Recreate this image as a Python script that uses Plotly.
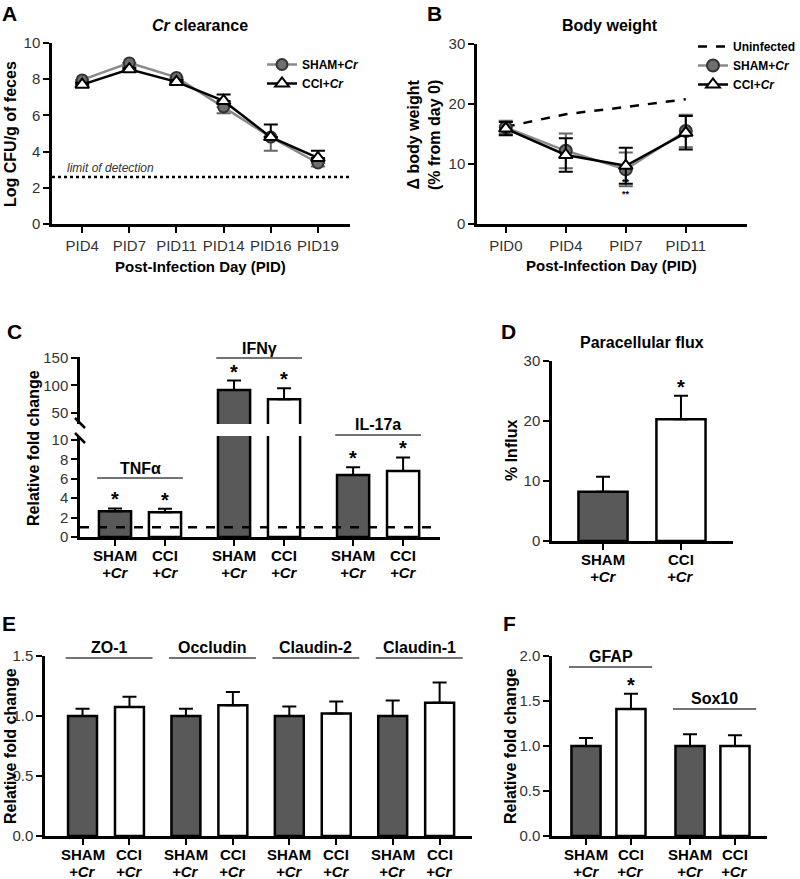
import plotly.graph_objects as go

# ---- data -------------------------------------------------------------
pid_a = ["PID4", "PID7", "PID11", "PID14", "PID16", "PID19"]
sham_cfu = [7.96, 8.9, 8.1, 6.47, 4.8, 3.37]
sham_cfu_err = [0.12, 0.1, 0.12, 0.35, 0.75, 0.2]
cci_cfu = [7.7, 8.55, 7.85, 6.8, 4.8, 3.65]
cci_cfu_err = [0.1, 0.1, 0.1, 0.35, 0.7, 0.4]
limit_of_detection = 2.6

pid_b = ["PID0", "PID4", "PID7", "PID11"]
uninfected_bw = [16.2, 18.3, 19.5, 20.8]
sham_bw = [16.1, 12.2, 9.1, 15.5]
sham_bw_err = [1.1, 2.9, 2.8, 2.7]
cci_bw = [15.9, 11.5, 9.7, 15.2]
cci_bw_err = [1.1, 2.8, 3.0, 2.8]

genes_c = ["TNF\u03b1", "IFN\u03b3", "IL-17a"]
sham_c = [2.65, 92, 6.4]
sham_c_err = [0.3, 17, 0.8]
cci_c = [2.55, 75, 6.8]
cci_c_err = [0.35, 20, 1.4]
sig_c_sham = [True, True, True]
sig_c_cci = [True, True, True]

groups = ["SHAM", "CCI"]
influx = [8.2, 20.3]
influx_err = [2.5, 3.9]
sig_d = [False, True]

genes_e = ["ZO-1", "Occludin", "Claudin-2", "Claudin-1"]
sham_e = [1.0, 1.0, 1.0, 1.0]
sham_e_err = [0.06, 0.06, 0.08, 0.13]
cci_e = [1.075, 1.09, 1.02, 1.11]
cci_e_err = [0.085, 0.11, 0.10, 0.17]

genes_f = ["GFAP", "Sox10"]
sham_f = [1.0, 1.0]
sham_f_err = [0.09, 0.13]
cci_f = [1.41, 1.0]
cci_f_err = [0.17, 0.12]
sig_f_cci = [True, False]

# ---- helpers ----------------------------------------------------------
W, H = 800, 879
FONT = "Arial, Liberation Sans, sans-serif"
DARK = "#595959"


def px(x):
    return x / W


def py(y):
    return 1 - y / H


def yax(top, bottom, rng, tickvals, anchor, **kw):
    d = dict(domain=[py(bottom), py(top)], range=rng, tickvals=tickvals, anchor=anchor,
             showline=True, linecolor="black", linewidth=2.5, ticks="outside", ticklen=6,
             tickwidth=2, tickcolor="black", showgrid=False, zeroline=False,
             tickfont=dict(size=15, color="#333"))
    d.update(kw)
    return d


def xax(left, right, rng, anchor, **kw):
    d = dict(domain=[px(left), px(right)], range=rng, anchor=anchor,
             showline=True, linecolor="black", linewidth=2.5, ticks="outside", ticklen=6,
             tickwidth=2, tickcolor="black", showgrid=False, zeroline=False,
             tickfont=dict(size=15, color="#333"))
    d.update(kw)
    return d


def up_err(err, color="black"):
    return dict(type="data", array=err, arrayminus=[0] * len(err), symmetric=False,
                color=color, thickness=2, width=7)


def down_err(err, color="black"):
    return dict(type="data", array=[0] * len(err), arrayminus=err, symmetric=False,
                color=color, thickness=2, width=7)


def bar(x, y, err, fill, xa, ya, width):
    return go.Bar(x=x, y=y, width=width, error_y=up_err(err),
                  marker=dict(color=fill, line=dict(color="black", width=2.5)),
                  xaxis=xa, yaxis=ya, showlegend=False, hoverinfo="skip")


fig = go.Figure()
annotations = []
shapes = []


def star(x, y, xref, yref):
    annotations.append(dict(text="<b>*</b>", x=x, y=y, xref=xref, yref=yref, showarrow=False,
                            xanchor="center", yanchor="middle", yshift=9,
                            font=dict(size=20, color="black")))


def text(t, x, y, size=16, **kw):
    annotations.append(dict(text=t, x=px(x), y=py(y), xref="paper", yref="paper",
                            xanchor="center", yanchor="middle",
                            showarrow=False, font=dict(size=size, color="black"), **kw))


def group_label(t, xc, half, ytext, yline, xref):
    annotations.append(dict(text="<b>%s</b>" % t, x=xc, y=py(ytext), xref=xref, yref="paper",
                            showarrow=False, xanchor="center", yanchor="middle",
                            font=dict(size=16, color="black")))
    shapes.append(dict(type="line", xref=xref, yref="paper", x0=xc - half, x1=xc + half,
                       y0=py(yline), y1=py(yline), line=dict(color="#444", width=1.5)))


def bar_labels(xvals, xref, yref):
    # two-line group labels under each bar: "SHAM / +Cr", "CCI / +Cr"
    for k, xv in enumerate(xvals):
        for t, shift in (("<b>%s</b>" % groups[k % 2], -18), ("<b><i>+Cr</i></b>", -35)):
            annotations.append(dict(text=t, x=xv, y=0, xref=xref, yref=yref + " domain",
                                    showarrow=False, xanchor="center", yanchor="middle",
                                    yshift=shift, borderpad=0,
                                    font=dict(size=15, color="black")))


# ---- A: Cr clearance --------------------------------------------------
fig.add_trace(go.Scatter(x=pid_a, y=sham_cfu, mode="lines+markers", name="<b>SHAM+<i>Cr</i></b>",
                         line=dict(color="#8a8a8a", width=2.5),
                         marker=dict(symbol="circle", size=11, color="#6e6e6e",
                                     line=dict(color="#333", width=2)),
                         error_y=down_err(sham_cfu_err, "#666"), xaxis="x", yaxis="y"))
fig.add_trace(go.Scatter(x=pid_a, y=cci_cfu, mode="lines+markers", name="<b>CCI+<i>Cr</i></b>",
                         line=dict(color="black", width=2.5),
                         marker=dict(symbol="triangle-up", size=12, color="white",
                                     line=dict(color="black", width=2)),
                         error_y=up_err(cci_cfu_err), xaxis="x", yaxis="y"))
shapes.append(dict(type="line", xref="x domain", yref="y", x0=0, x1=1,
                   y0=limit_of_detection, y1=limit_of_detection,
                   line=dict(color="black", width=2.5, dash="dot")))
annotations.append(dict(text="<i>limit of detection</i>", xref="x domain", yref="y", x=0.045,
                        y=limit_of_detection, xanchor="left", yanchor="bottom", showarrow=False,
                        font=dict(size=12, color="#333")))

# ---- B: Body weight ---------------------------------------------------
fig.add_trace(go.Scatter(x=pid_b, y=uninfected_bw, mode="lines", name="<b>Uninfected</b>",
                         line=dict(color="black", width=2.5, dash="dash"),
                         xaxis="x2", yaxis="y2", legend="legend2"))
fig.add_trace(go.Scatter(x=pid_b, y=sham_bw, mode="lines+markers", name="<b>SHAM+<i>Cr</i></b>",
                         line=dict(color="#8a8a8a", width=2.5),
                         marker=dict(symbol="circle", size=12, color="#6e6e6e",
                                     line=dict(color="#333", width=2)),
                         error_y=dict(type="data", array=sham_bw_err, color="#666",
                                      thickness=2, width=7),
                         xaxis="x2", yaxis="y2", legend="legend2"))
fig.add_trace(go.Scatter(x=pid_b, y=cci_bw, mode="lines+markers", name="<b>CCI+<i>Cr</i></b>",
                         line=dict(color="black", width=2.5),
                         marker=dict(symbol="triangle-up", size=12, color="white",
                                     line=dict(color="black", width=2)),
                         error_y=dict(type="data", array=cci_bw_err, color="black",
                                      thickness=2, width=7),
                         xaxis="x2", yaxis="y2", legend="legend2"))
annotations.append(dict(text="<b>**<br>**</b>", x="PID7", y=6.0, xref="x2", yref="y2",
                        showarrow=False, font=dict(size=9, color="black")))

# ---- C: cytokines (broken axis) ---------------------------------------
off_c = 0.21
xs_c = [i - off_c for i in range(len(genes_c))]
xc_c = [i + off_c for i in range(len(genes_c))]
for ya in ("y3", "y4"):
    fig.add_trace(bar(xs_c, sham_c, sham_c_err, DARK, "x3", ya, 0.27))
    fig.add_trace(bar(xc_c, cci_c, cci_c_err, "white", "x3", ya, 0.27))
for i in range(len(genes_c)):
    for xv, v, e, s in ((xs_c[i], sham_c[i], sham_c_err[i], sig_c_sham[i]),
                        (xc_c[i], cci_c[i], cci_c_err[i], sig_c_cci[i])):
        if s:
            star(xv, v + e, "x3", "y4" if v + e > 10.4 else "y3")
shapes.append(dict(type="line", xref="x3 domain", yref="y3", x0=0, x1=1, y0=1, y1=1,
                   line=dict(color="black", width=2.5, dash="dash")))
for g, yt, yl in zip(range(len(genes_c)), [468, 348, 425], [478, 358, 435]):
    group_label(genes_c[g], g, 0.36, yt, yl, "x3")
# axis break marks
for y0 in (418, 433):
    shapes.append(dict(type="line", xref="paper", yref="paper", x0=px(75), x1=px(85),
                       y0=py(y0), y1=py(y0 + 10), line=dict(color="black", width=2.5)))
xc3 = [v for p in zip(xs_c, xc_c) for v in p]
bar_labels(xc3, "x3", "y3")

# ---- D: paracellular flux ---------------------------------------------
fig.add_trace(go.Bar(x=groups, y=influx, width=0.63, error_y=up_err(influx_err),
                     marker=dict(color=[DARK, "white"], line=dict(color="black", width=2.5)),
                     xaxis="x5", yaxis="y5", showlegend=False, hoverinfo="skip"))
for g, v, e, s in zip(groups, influx, influx_err, sig_d):
    if s:
        star(g, v + e, "x5", "y5")
bar_labels(groups, "x5", "y5")

# ---- E: tight junctions -----------------------------------------------
off_e = 0.227
xs_e = [i - off_e for i in range(len(genes_e))]
xc_e = [i + off_e for i in range(len(genes_e))]
fig.add_trace(bar(xs_e, sham_e, sham_e_err, DARK, "x6", "y6", 0.28))
fig.add_trace(bar(xc_e, cci_e, cci_e_err, "white", "x6", "y6", 0.28))
for g in range(len(genes_e)):
    group_label(genes_e[g], g + 0.03, 0.42, 647, 658, "x6")
xc6 = [v for p in zip(xs_e, xc_e) for v in p]
bar_labels(xc6, "x6", "y6")

# ---- F: GFAP / Sox10 --------------------------------------------------
off_f = 0.216
xs_f = [i - off_f for i in range(len(genes_f))]
xc_f = [i + off_f for i in range(len(genes_f))]
fig.add_trace(bar(xs_f, sham_f, sham_f_err, DARK, "x7", "y7", 0.28))
fig.add_trace(bar(xc_f, cci_f, cci_f_err, "white", "x7", "y7", 0.28))
for i in range(len(genes_f)):
    if sig_f_cci[i]:
        star(xc_f[i], cci_f[i] + cci_f_err[i], "x7", "y7")
for g, yt, yl in zip(range(len(genes_f)), [656, 698], [667, 709]):
    group_label(genes_f[g], g + 0.02, 0.40, yt, yl, "x7")
xc7 = [v for p in zip(xs_f, xc_f) for v in p]
bar_labels(xc7, "x7", "y7")

# ---- panel letters, titles --------------------------------------------
for t, x, y in (("A", 9, 14), ("B", 434, 14), ("C", 14, 331), ("D", 508, 331),
                ("E", 9, 623), ("F", 509, 623)):
    text("<b>%s</b>" % t, x, y, size=21)
text("<b><i>Cr</i> clearance</b>", 200, 25)
text("<b>Body weight</b>", 610, 25)
text("<b>Paracellular flux</b>", 642, 342)
text("<b>Post-Infection Day (PID)</b>", 201, 266, size=15)
text("<b>Post-Infection Day (PID)</b>", 611, 265, size=15)
text("<b>Log CFU/g of feces</b>", 10, 134, textangle=-90)
text("<b>\u0394 body weight<br>(% from day 0)</b>", 424, 135, textangle=-90)
text("<b>Relative fold change</b>", 34, 448, textangle=-90)
text("<b>% Influx</b>", 511, 451, textangle=-90)
text("<b>Relative fold change</b>", 10, 746, textangle=-90)
text("<b>Relative fold change</b>", 510, 746, textangle=-90)

fig.update_layout(
    width=W, height=H, margin=dict(l=0, r=0, t=0, b=0, autoexpand=False),
    paper_bgcolor="white", plot_bgcolor="white",
    font=dict(family=FONT, color="black"),
    barmode="overlay",
    xaxis=xax(52, 350, [-0.64, 5.68], "y", type="category"),
    yaxis=yax(43, 224, [0, 10], [0, 2, 4, 6, 8, 10], "x"),
    xaxis2=xax(477, 747, [-0.48, 4.02], "y2", type="category"),
    yaxis2=yax(44, 224, [0, 30], [0, 10, 20, 30], "x2"),
    xaxis3=xax(80, 440, [-0.504, 2.52], "y3", tickvals=xc3, showticklabels=False),
    yaxis3=yax(436, 537, [0, 10.41], [0, 2, 4, 6, 8, 10], "x3"),
    yaxis4=yax(357, 424, [30, 151.8], [50, 100, 150], "x3"),
    xaxis5=xax(552, 733, [-0.654, 1.667], "y5", type="category", showticklabels=False),
    yaxis5=yax(361, 541, [0, 30], [0, 10, 20, 30], "x5"),
    xaxis6=xax(45, 472, [-0.59, 3.54], "y6", tickvals=xc6, showticklabels=False),
    yaxis6=yax(656, 836, [0, 1.5], [0, 0.5, 1.0, 1.5], "x6", tickformat=".1f"),
    xaxis7=xax(552, 767, [-0.543, 1.524], "y7", tickvals=xc7, showticklabels=False),
    yaxis7=yax(656, 836, [0, 2.0], [0, 0.5, 1.0, 1.5, 2.0], "x7", tickformat=".1f"),
    legend=dict(x=px(262), y=py(50), xanchor="left", yanchor="top",
                font=dict(size=12, color="black"), bgcolor="rgba(0,0,0,0)"),
    legend2=dict(x=px(693), y=py(32), xanchor="left", yanchor="top",
                 font=dict(size=12, color="black"), bgcolor="rgba(0,0,0,0)"),
    annotations=annotations, shapes=shapes,
)

# drop the default page margin so the figure sits at the window's top-left corner
fig.write_html("out.html", config={"displayModeBar": False},
               post_script="document.body.style.margin='0';"
                           "document.body.style.overflow='hidden';")
